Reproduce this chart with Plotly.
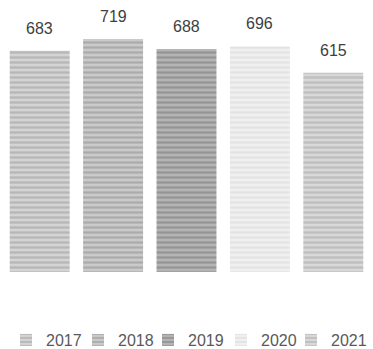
import plotly.graph_objects as go

years = ["2017", "2018", "2019", "2020", "2021"]
values = [683, 719, 688, 696, 615]
bg_colors = ["#d4d4d4", "#cacaca", "#b4b4b4", "#f0f0f0", "#d8d8d8"]
fg_colors = ["#9a9a9a", "#8c8c8c", "#747474", "#d6d6d6", "#a4a4a4"]
legend_text_px = [46, 118, 188, 261, 331]

W, ML = 373, 3
PW = W - 2 * ML

fig = go.Figure()
layout_legends = {}
for i, (yr, v, bg, fg) in enumerate(zip(years, values, bg_colors, fg_colors)):
    lg = "legend" if i == 0 else f"legend{i + 1}"
    fig.add_trace(go.Bar(
        x=[yr], y=[v], name=yr, legend=lg,
        marker=dict(color=bg, line=dict(width=0),
                    pattern=dict(shape="-", fgcolor=fg, bgcolor=bg, size=5, solidity=0.45)),
    ))
    fig.add_annotation(x=i, y=v, text=str(v), showarrow=False, yanchor="bottom",
                       yshift=12, font=dict(size=16, color="#404040"))
    layout_legends[lg] = dict(
        orientation="h", x=(legend_text_px[i] - 40 - ML) / PW, xanchor="left",
        yref="paper", y=-0.27, yanchor="middle", bgcolor="rgba(0,0,0,0)",
        font=dict(size=16, color="#595959"), itemwidth=30,
    )

fig.update_layout(
    width=W, height=349,
    margin=dict(l=ML, r=ML, t=20, b=77, autoexpand=False),
    barmode="overlay", bargap=0.183,
    plot_bgcolor="white", paper_bgcolor="white",
    font=dict(family="Liberation Sans, Arial, sans-serif", color="#595959"),
    xaxis=dict(visible=False, type="category", range=[-0.5, len(years) - 0.5]),
    yaxis=dict(visible=False, range=[0, 719 * 252 / 233]),
    showlegend=True,
    **layout_legends,
)
fig.write_html("out.html")
